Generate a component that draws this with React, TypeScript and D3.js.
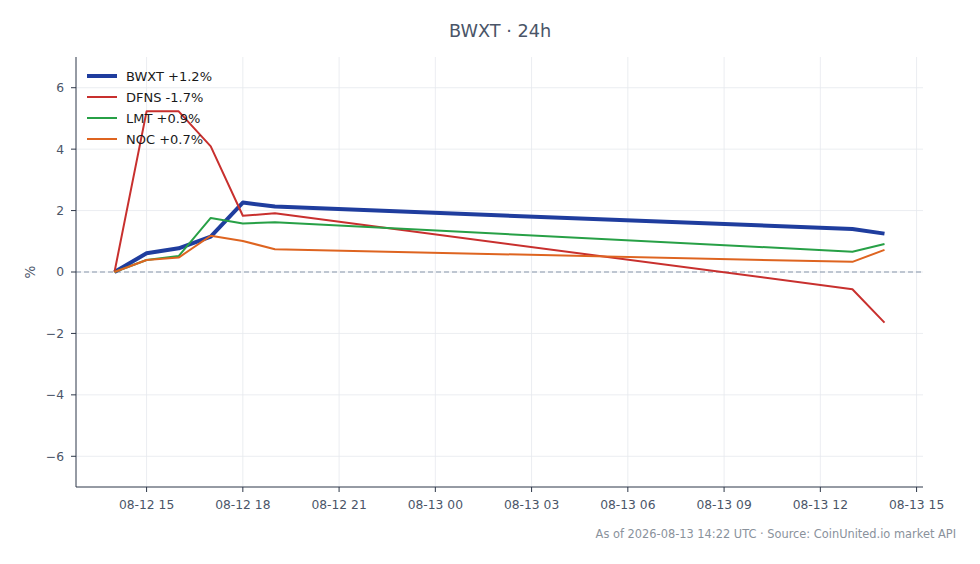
import * as d3 from "d3";

// hourly points, 2026-08-12 14:00 .. 2026-08-13 14:00 (UTC)
const times = [
  "2026-08-12T14:00:00Z",
  "2026-08-12T15:00:00Z",
  "2026-08-12T16:00:00Z",
  "2026-08-12T17:00:00Z",
  "2026-08-12T18:00:00Z",
  "2026-08-12T19:00:00Z",
  "2026-08-13T13:00:00Z",
  "2026-08-13T14:00:00Z",
];
const bwxt = [0, 0.61, 0.77, 1.15, 2.26, 2.13, 1.4, 1.25];
const dfns = [0, 5.23, 5.23, 4.09, 1.83, 1.91, -0.56, -1.65];
const lmt = [0, 0.39, 0.52, 1.76, 1.58, 1.62, 0.66, 0.91];
const noc = [0, 0.39, 0.47, 1.18, 1.01, 0.74, 0.33, 0.72];

const seriesNames = ["BWXT +1.2%", "DFNS -1.7%", "LMT +0.9%", "NOC +0.7%"];
const seriesValues = [bwxt, dfns, lmt, noc];
const seriesColors = ["#1f3d9e", "#c8302e", "#27a046", "#de6420"];
const seriesWidths = [4, 2, 2, 2];

const yTicks = [-6, -4, -2, 0, 2, 4, 6];
const xTicks = [
  "2026-08-12T15:00:00Z",
  "2026-08-12T18:00:00Z",
  "2026-08-12T21:00:00Z",
  "2026-08-13T00:00:00Z",
  "2026-08-13T03:00:00Z",
  "2026-08-13T06:00:00Z",
  "2026-08-13T09:00:00Z",
  "2026-08-13T12:00:00Z",
  "2026-08-13T15:00:00Z",
];

const width = 980;
const height = 564;
const margin = { top: 57, right: 57, bottom: 77, left: 76 };
const font = "'DejaVu Sans', sans-serif";
const axisColor = "#2d3748";
const textColor = "#4a5568";

const dates = times.map((t) => new Date(t));
const t0 = dates[0].getTime();
const t1 = dates[dates.length - 1].getTime();
const pad = (t1 - t0) * 0.05;

const xScale = d3
  .scaleUtc()
  .domain([new Date(t0 - pad), new Date(t1 + pad)])
  .range([margin.left, width - margin.right]);
const yScale = d3
  .scaleLinear()
  .domain([-7, 7])
  .range([height - margin.bottom, margin.top]);

const fmt = d3.utcFormat("%m-%d %H");

export default function App() {
  const line = d3
    .line<number>()
    .x((_, i) => xScale(dates[i]))
    .y((d) => yScale(d));

  const x0 = margin.left;
  const x1 = width - margin.right;
  const y0 = height - margin.bottom;
  const y1 = margin.top;

  return (
    <svg
      width={width}
      height={height}
      style={{ position: "absolute", left: 0, top: 0, background: "#fff" }}
      fontFamily={font}
    >
      {/* grid */}
      {xTicks.map((t) => (
        <line
          key={t}
          x1={xScale(new Date(t))}
          x2={xScale(new Date(t))}
          y1={y1}
          y2={y0}
          stroke="#e6e9ee"
          strokeWidth={0.8}
        />
      ))}
      {yTicks.map((v) => (
        <line
          key={v}
          x1={x0}
          x2={x1}
          y1={yScale(v)}
          y2={yScale(v)}
          stroke="#e6e9ee"
          strokeWidth={0.8}
        />
      ))}

      {/* zero line */}
      <line
        x1={x0}
        x2={x1}
        y1={yScale(0)}
        y2={yScale(0)}
        stroke="#8796aa"
        strokeWidth={1}
        strokeDasharray="5,3"
      />

      {/* series */}
      {seriesValues.map((vals, i) => (
        <path
          key={seriesNames[i]}
          d={line(vals) ?? ""}
          fill="none"
          stroke={seriesColors[i]}
          strokeWidth={seriesWidths[i]}
          strokeLinejoin="round"
        />
      ))}

      {/* spines */}
      <line x1={x0} x2={x0} y1={y1} y2={y0} stroke={axisColor} strokeWidth={1} />
      <line x1={x0} x2={x1} y1={y0} y2={y0} stroke={axisColor} strokeWidth={1} />

      {/* y ticks */}
      {yTicks.map((v) => (
        <g key={v} transform={`translate(${x0},${yScale(v)})`}>
          <line x1={-5} x2={0} stroke={axisColor} strokeWidth={1} />
          <text
            x={-12}
            dy="0.36em"
            textAnchor="end"
            fontSize={12.3}
            fill={textColor}
          >
            {v < 0 ? `\u2212${Math.abs(v)}` : v}
          </text>
        </g>
      ))}

      {/* x ticks */}
      {xTicks.map((t) => (
        <g key={t} transform={`translate(${xScale(new Date(t))},${y0})`}>
          <line y1={0} y2={5} stroke={axisColor} strokeWidth={1} />
          <text y={22} textAnchor="middle" fontSize={12.3} fill={textColor}>
            {fmt(new Date(t))}
          </text>
        </g>
      ))}

      {/* y label */}
      <text
        transform={`translate(35,${yScale(0)}) rotate(-90)`}
        textAnchor="middle"
        fontSize={13.5}
        fill={textColor}
      >
        %
      </text>

      {/* title */}
      <text x={500} y={37} textAnchor="middle" fontSize={17.7} fill={textColor}>
        BWXT · 24h
      </text>

      {/* legend */}
      {seriesNames.map((name, i) => (
        <g key={name} transform={`translate(87,${76 + i * 21})`}>
          <line
            x1={0}
            x2={30}
            stroke={seriesColors[i]}
            strokeWidth={seriesWidths[i]}
          />
          <text x={39} dy="0.36em" fontSize={13} fill="#1a1a1a">
            {name}
          </text>
        </g>
      ))}

      {/* footer */}
      <text
        x={956}
        y={538}
        textAnchor="end"
        fontSize={11.4}
        fill="#8a929c"
      >
        As of 2026-08-13 14:22 UTC · Source: CoinUnited.io market API
      </text>
    </svg>
  );
}
